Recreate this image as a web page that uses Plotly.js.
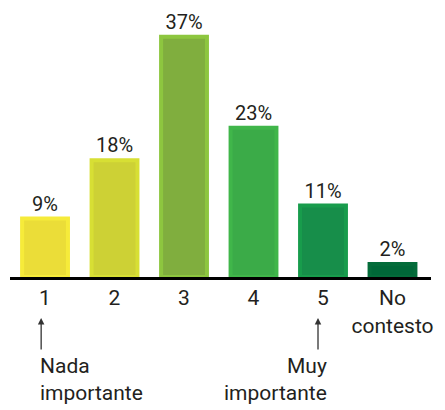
<!DOCTYPE html>
<html>
<head>
<meta charset="utf-8">
<script src="https://cdn.plot.ly/plotly-3.0.1.min.js"></script>
<style>html,body{margin:0;padding:0;background:#fff;}#chart{width:445px;height:410px;}</style>
</head>
<body>
<div id="chart"></div>
<script>
const categories = ['1', '2', '3', '4', '5', 'No<br>contesto'];
const values = [9, 18, 37, 23, 11, 2];
const fillColors = ['#ebdd38', '#cdd135', '#80ae3e', '#3bab48', '#178e4a', '#006838'];
const borderColors = ['#f6eb3a', '#d7df34', '#8dc63f', '#40b64a', '#189c4c', '#046c3a'];
const lowLabel = 'Nada<br>importante';
const highLabel = 'Muy<br>importante';

const font = 'Roboto, "DejaVu Sans", sans-serif';

const trace = {
  type: 'bar',
  x: categories,
  y: values,
  texttemplate: '%{y}%',
  textposition: 'outside',
  cliponaxis: false,
  textfont: {family: font, size: 20, color: '#231f20'},
  marker: {color: fillColors, line: {color: borderColors, width: 4}},
  hoverinfo: 'none'
};

const layout = {
  width: 445, height: 410,
  margin: {l: 10, r: 14, t: 20, b: 133},
  paper_bgcolor: '#fff', plot_bgcolor: '#fff',
  bargap: 0.34,
  showlegend: false,
  font: {family: font, size: 21, color: '#231f20'},
  xaxis: {
    type: 'category',
    range: [-0.504, 5.554],
    showline: true, linecolor: '#000', linewidth: 3,
    ticks: '', showgrid: false, zeroline: false,
    tickfont: {family: font, size: 21, color: '#231f20'},
    fixedrange: true
  },
  yaxis: {
    range: [0, 39.6],
    visible: false, showgrid: false, zeroline: false,
    fixedrange: true
  },
  annotations: [
    {xref: 'paper', yref: 'paper', x: 0.074, y: -0.16, text: '', showarrow: true,
     ax: 0, ay: 33, arrowhead: 2, arrowsize: 1, arrowwidth: 1.3, arrowcolor: '#333', standoff: 0},
    {xref: 'paper', yref: 'paper', x: 0.7316, y: -0.16, text: '', showarrow: true,
     ax: 0, ay: 33, arrowhead: 2, arrowsize: 1, arrowwidth: 1.3, arrowcolor: '#333', standoff: 0},
    {xref: 'paper', yref: 'paper', x: 0.0665, y: -0.292, xanchor: 'left', yanchor: 'top',
     align: 'left', text: lowLabel, showarrow: false,
     font: {family: font, size: 21, color: '#231f20'}},
    {xref: 'paper', yref: 'paper', x: 0.758, y: -0.292, xanchor: 'right', yanchor: 'top',
     align: 'right', text: highLabel, showarrow: false,
     font: {family: font, size: 21, color: '#231f20'}}
  ]
};

Plotly.newPlot('chart', [trace], layout, {staticPlot: true, displayModeBar: false});
</script>
</body>
</html>
